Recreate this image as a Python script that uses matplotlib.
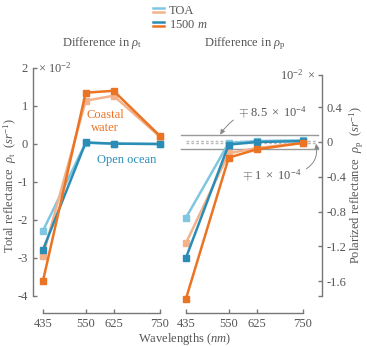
import matplotlib
matplotlib.use("Agg")
import matplotlib.pyplot as plt
from matplotlib.lines import Line2D

plt.rcParams['font.family'] = ['Liberation Serif', 'DejaVu Serif']
plt.rcParams['mathtext.fontset'] = 'custom'
plt.rcParams['mathtext.rm'] = 'Liberation Serif'
plt.rcParams['mathtext.it'] = 'Liberation Serif:italic'
plt.rcParams['axes.unicode_minus'] = False

# ---- data (units of 1e-2) ----
wavelengths = [435, 550, 625, 750]
# total reflectance difference
rt_ocean_toa = [-2.28, 0.03, 0.01, 0.0]
rt_ocean_1500 = [-2.78, 0.04, 0.01, 0.0]
rt_coast_toa = [-2.94, 1.14, 1.27, 0.19]
rt_coast_1500 = [-3.60, 1.35, 1.40, 0.21]
# polarized reflectance difference
rp_ocean_toa = [-0.87, -0.01, 0.01, 0.02]
rp_ocean_1500 = [-1.33, -0.03, 0.0, 0.01]
rp_coast_toa = [-1.16, -0.13, -0.07, -0.01]
rp_coast_1500 = [-1.80, -0.18, -0.085, -0.01]
left_yticks = [2, 1, 0, -1, -2, -3, -4]
right_yticks = [0.4, 0, -0.4, -0.8, -1.2, -1.6]
right_yticklabels = ['0.4', '0', '-0.4', '-0.8', '-1.2', '-1.6']
thr_big = 0.085   # 8.5e-4 in units of 1e-2
thr_small = 0.01  # 1e-4 in units of 1e-2

DB = '#2b8cb6'
LB = '#80c6e1'
DO = '#ea7424'
LO = '#f4b28a'
TXT = '#555555'
SP = '#777777'

W, H = 367, 347
fig = plt.figure(figsize=(W / 100, H / 100), dpi=100)

def box(x0, x1, ytop, ybot):
    return [x0 / W, 1 - ybot / H, (x1 - x0) / W, (ybot - ytop) / H]

axL = fig.add_axes(box(43, 160, 68, 296))
axR = fig.add_axes(box(186, 303, 75, 296))

for ax in (axL, axR):
    ax.patch.set_alpha(0)
    ax.set_xlim(435, 750)
    ax.set_xticks(wavelengths)
    ax.set_xticklabels([str(w) for w in wavelengths])
    ax.spines['top'].set_visible(False)
    ax.spines['bottom'].set_position(('outward', 12.5))
    ax.spines['bottom'].set_bounds(435, 750)
    for s in ax.spines.values():
        s.set_color(SP)
        s.set_linewidth(1.0)
    ax.tick_params(direction='in', length=3, width=1.0, color=SP,
                   labelcolor=TXT, labelsize=9)
    ax.tick_params(which='minor', direction='in', length=3, width=1.0, color=SP)

kw = dict(marker='s', markersize=4.5, lw=1.8, clip_on=False)

# left panel
axL.spines['right'].set_visible(False)
axL.spines['left'].set_position(('outward', 7.5))
axL.set_ylim(-4, 2)
axL.set_yticks(left_yticks)
axL.set_yticklabels([str(t) for t in left_yticks])
axL.plot(wavelengths, rt_ocean_toa, color=LB, **kw)
axL.plot(wavelengths, rt_coast_toa, color=LO, **kw)
axL.plot(wavelengths, rt_ocean_1500, color=DB, **kw)
axL.plot(wavelengths, rt_coast_1500, color=DO, **kw)
axL.set_title(r'Difference in $\rho_{\rm t}$', color=TXT, fontsize=9, pad=16)
axL.text(-0.04, 1.0, r'$\times\ 10^{-2}$', transform=axL.transAxes, color=TXT,
         fontsize=9, va='center', ha='left')
axL.text(602, 0.6, 'Coastal\nwater', color=DO, fontsize=9, ha='center', va='center',
         linespacing=1.1)
axL.text(661, -0.42, 'Open ocean', color=DB, fontsize=9, ha='center', va='center')

# right panel
axR.spines['left'].set_visible(False)
axR.spines['right'].set_position(('outward', 13.5))
axR.yaxis.set_ticks_position('right')
ylo, yhi = -1.77, 0.77
axR.set_ylim(ylo, yhi)
axR.set_yticks(right_yticks)
axR.set_yticklabels(right_yticklabels)
axR.set_yticks([ylo, yhi], minor=True)
for v in (thr_big, -thr_big):
    axR.axhline(v, xmin=-0.04, xmax=1.13, color='#999999', lw=1.0, clip_on=False, zorder=1)
for v in (thr_small, -thr_small):
    axR.axhline(v, xmin=0.0, xmax=1.11, color='#bbbbbb', lw=1.0, ls=(0, (2, 1.5)),
                clip_on=False, zorder=1)
axR.plot(wavelengths, rp_ocean_toa, color=LB, **kw)
axR.plot(wavelengths, rp_coast_toa, color=LO, **kw)
axR.plot(wavelengths, rp_ocean_1500, color=DB, **kw)
axR.plot(wavelengths, rp_coast_1500, color=DO, **kw)
axR.set_title(r'Difference in $\rho_{\rm p}$', color=TXT, fontsize=9, pad=21)
axR.text(1.1, 1.0, r'$10^{-2}\ \times$', transform=axR.transAxes, color=TXT,
         fontsize=9, va='center', ha='right')
axR.annotate(r'$\mp\ 8.5\ \times\ 10^{-4}$', xy=(527, thr_big), xytext=(576, 0.33),
             color=TXT, fontsize=9, ha='left', va='center', annotation_clip=False,
             arrowprops=dict(arrowstyle='-|>', color='#888888', lw=0.7,
                             mutation_scale=7, shrinkA=2, shrinkB=0,
                             connectionstyle='arc3,rad=0.35'))
axR.annotate(r'$\mp\ 1\ \times\ 10^{-4}$', xy=(785, -thr_small - 0.01), xytext=(585, -0.39),
             color=TXT, fontsize=9, ha='left', va='center', annotation_clip=False,
             arrowprops=dict(arrowstyle='-|>', color='#888888', lw=0.7,
                             mutation_scale=7, shrinkA=2, shrinkB=0,
                             connectionstyle='angle3,angleA=0,angleB=100'))

fig.text(10 / W, 1 - 185 / H, r'Total reflectance  $\rho_{\rm t}$  $(sr^{-1})$',
         color=TXT, fontsize=9, rotation=90, ha='center', va='center')
fig.text(357 / W, 1 - 185 / H, r'Polarized reflectance  $\rho_{\rm p}$  $(sr^{-1})$',
         color=TXT, fontsize=9, rotation=90, ha='center', va='center')
fig.text(185 / W, 1 - 339 / H, r'Wavelengths $(nm)$', color=TXT, fontsize=9,
         ha='center', va='center')

# legend with stacked double-line handles
class DoubleLine:
    def __init__(self, c1, c2):
        self.c1, self.c2 = c1, c2

class DoubleHandler:
    def legend_artist(self, legend, orig, fontsize, handlebox):
        x0, y0 = handlebox.xdescent, handlebox.ydescent
        w, h = handlebox.width, handlebox.height
        l1 = Line2D([x0, x0 + w], [y0 + h * 0.65] * 2, color=orig.c1, lw=1.8,
                    transform=handlebox.get_transform())
        l2 = Line2D([x0, x0 + w], [y0 + h * 0.2] * 2, color=orig.c2, lw=1.8,
                    transform=handlebox.get_transform())
        handlebox.add_artist(l1)
        handlebox.add_artist(l2)
        return l1

h1, h2 = DoubleLine(LB, LO), DoubleLine(DB, DO)
fig.legend([h1, h2], ['TOA', r'1500 $m$'], handler_map={DoubleLine: DoubleHandler()},
           loc='center', bbox_to_anchor=(180 / W, 1 - 18 / H), frameon=False,
           fontsize=9, labelcolor=TXT, handlelength=0.9, handletextpad=0.4,
           labelspacing=0.15, borderpad=0)

fig.savefig('out.png', dpi=100)
